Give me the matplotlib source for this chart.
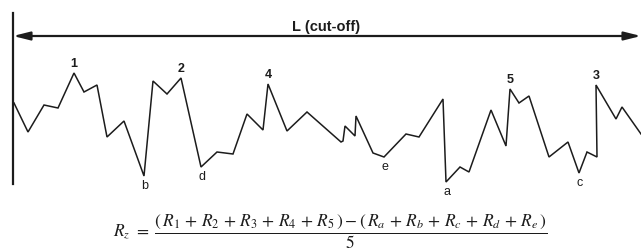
import matplotlib
matplotlib.use("Agg")
import matplotlib.pyplot as plt

# profile (pixel coordinates, y downwards)
profile_x = [14, 28, 44, 58, 74, 84, 97, 107, 124, 144, 153, 167, 181, 201, 217,
             233, 247, 263, 268, 287, 307, 341, 343, 345, 355, 356, 373, 384, 406,
             419, 443, 446, 460, 469, 491, 506, 510, 519, 529, 549, 568, 579, 587,
             597, 596, 616, 622, 641]
profile_y = [104, 133, 106, 109, 74, 93, 86, 138, 122, 177, 82, 95, 79, 168, 153,
             155, 115, 131, 85, 132, 113, 143, 142, 127, 137, 117, 154, 158, 135,
             138, 100, 183, 168, 173, 111, 147, 90, 104, 97, 158, 143, 174, 153,
             158, 86, 120, 108, 135]

peak_labels = ["1", "2", "4", "5", "3"]
peak_x = [74, 181, 268, 510, 596]
peak_y = [74, 79, 85, 90, 86]

valley_labels = ["b", "d", "e", "a", "c"]
valley_x = [144, 201, 384, 446, 579]
valley_y = [177, 168, 158, 183, 174]

cutoff_label = "L (cut-off)"
formula = (r"$R_z\ =\ \dfrac{(\,R_1\,+\,R_2\,+\,R_3\,+\,R_4\,+\,R_5\,)-(\,R_a\,+\,R_b"
           r"\,+\,R_c\,+\,R_d\,+\,R_e\,)}{5}$")

plt.rcParams['mathtext.fontset'] = 'stix'
fig = plt.figure(figsize=(6.41, 2.51), dpi=100)
ax = fig.add_axes([0, 0, 1, 1])
ax.set_xlim(0, 641)
ax.set_ylim(251, 0)
ax.axis('off')

ink = '#1c1c1c'
ax.plot(profile_x, profile_y, color=ink, lw=1.1, solid_joinstyle='miter')

# left reference line and cut-off arrow
ax.plot([13, 13], [14, 185], color=ink, lw=1.6)
ax.annotate('', xy=(13, 37), xytext=(641, 37),
            arrowprops=dict(arrowstyle='<|-|>,head_length=1.0,head_width=0.25',
                            color=ink, lw=1.6, shrinkA=0, shrinkB=0))
ax.text(326, 27, cutoff_label, ha='center', va='center', fontsize=10.5,
        fontweight='bold', family='Liberation Sans', color=ink)

for lab, x, y in zip(peak_labels, peak_x, peak_y):
    ax.text(x, y - 4, lab, ha='center', va='bottom', fontsize=9,
            fontweight='bold', family='Liberation Sans', color=ink)
for lab, x, y in zip(valley_labels, valley_x, valley_y):
    ax.text(x + 1, y + 3, lab, ha='center', va='top', fontsize=9,
            family='Liberation Sans', color=ink)

ax.text(330, 232, formula, ha='center', va='center', fontsize=12.5, color=ink)

fig.savefig("out.png", dpi=100)
